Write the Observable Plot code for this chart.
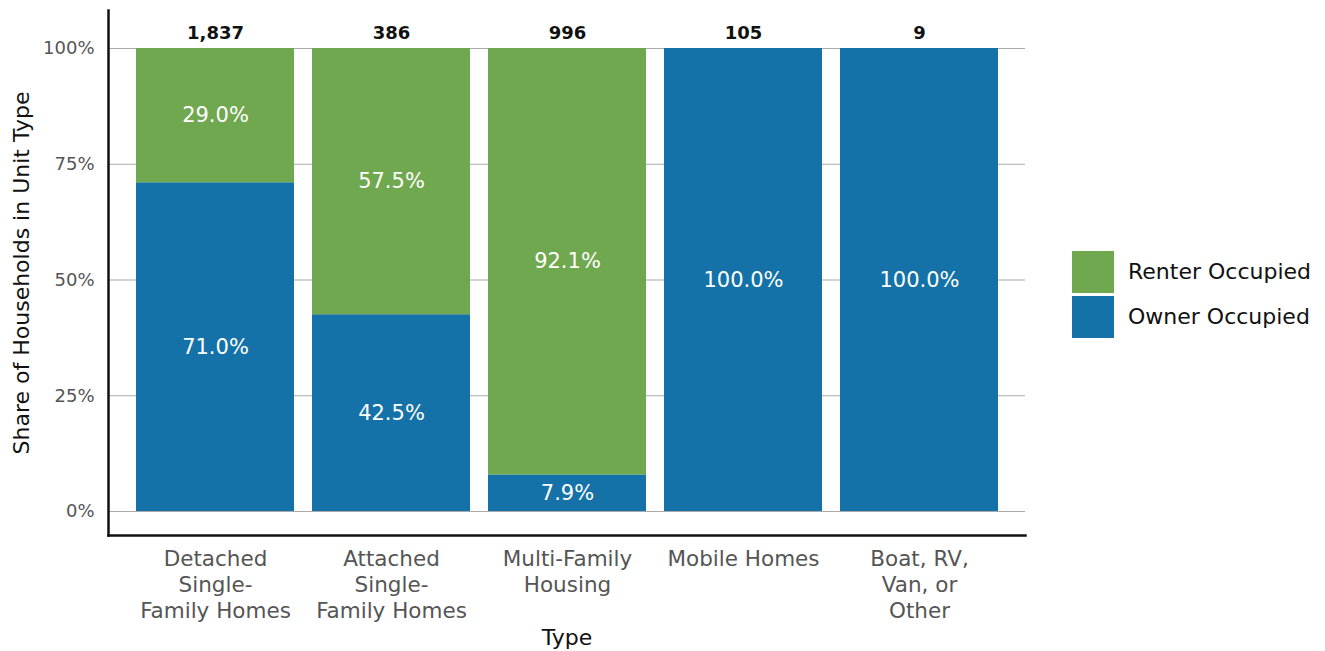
<!DOCTYPE html>
<html>
<head>
<meta charset="utf-8">
<script src="https://cdn.jsdelivr.net/npm/d3@7"></script>
<script src="https://cdn.jsdelivr.net/npm/@observablehq/plot@0.6"></script>
<style>
  html, body { margin: 0; padding: 0; background: #fff; }
  #wrap { position: relative; width: 1325px; height: 651px; font-family: "DejaVu Sans", sans-serif; }
  #legend { position: absolute; left: 1072px; top: 249px; font-size: 22px; color: #111; }
  .item { display: flex; align-items: center; height: 45px; }
  .sw { width: 42px; height: 42px; margin-right: 14px; }
</style>
</head>
<body>
<div id="wrap">
  <div id="chart"></div>
  <div id="legend"></div>
</div>
<script>
const types = ["Detached Single-Family Homes", "Attached Single-Family Homes", "Multi-Family Housing", "Mobile Homes", "Boat, RV, Van, or Other"];
const typeLabels = ["Detached\nSingle-\nFamily Homes", "Attached\nSingle-\nFamily Homes", "Multi-Family\nHousing", "Mobile Homes", "Boat, RV,\nVan, or\nOther"];
const totals = [1837, 386, 996, 105, 9];
const ownerPct = [71.0, 42.5, 7.9, 100.0, 100.0];
const renterPct = [29.0, 57.5, 92.1, 0, 0];
const tenures = ["Renter Occupied", "Owner Occupied"];
const colors = ["#70a84f", "#1572a8"];
const yTicks = [0, 0.25, 0.5, 0.75, 1];

const rows = [];
types.forEach((t, i) => rows.push({type: t, tenure: "Owner Occupied", pct: ownerPct[i]}));
types.forEach((t, i) => rows.push({type: t, tenure: "Renter Occupied", pct: renterPct[i]}));
const totalRows = types.map((t, i) => ({type: t, total: totals[i]}));
const labelOf = new Map(types.map((t, i) => [t, typeLabels[i]]));

const chart = Plot.plot({
  width: 1325,
  height: 651,
  marginLeft: 108,
  marginRight: 300,
  marginTop: 10,
  marginBottom: 116,
  style: {fontFamily: "'DejaVu Sans', sans-serif", background: "#fff"},
  x: {domain: types, paddingInner: 0.105, paddingOuter: 0.15},
  y: {domain: [-24 / 463, 1 + 38 / 463]},
  color: {domain: tenures, range: colors},
  marks: [
    Plot.gridY(yTicks, {stroke: "#aaa", strokeOpacity: 1, strokeWidth: 1.2}),
    Plot.barY(rows, Plot.stackY({x: "type", y: d => d.pct / 100, fill: "tenure", order: null})),
    Plot.text(rows.filter(d => d.pct > 0), Plot.stackY({
      x: "type", y: d => d.pct / 100, z: "tenure", order: null,
      text: d => d.pct.toFixed(1) + "%", fill: "white", fontSize: 21
    })),
    Plot.text(totalRows, {x: "type", y: 1, dy: -15, text: d => d3.format(",")(d.total), fontWeight: "bold", fontSize: 18, fill: "#111"}),
    Plot.axisY(yTicks, {
      tickSize: 0, tickPadding: 14, tickFormat: d => Math.round(d * 100) + "%",
      fontSize: 18, color: "#555",
      label: "Share of Households in Unit Type", labelAnchor: "center", labelArrow: "none", labelOffset: 95
    }),
    Plot.axisX({
      tickSize: 0, tickPadding: 12, tickFormat: d => labelOf.get(d),
      fontSize: 21.5, color: "#555", lineHeight: 1.21,
      label: "Type", labelAnchor: "center", labelArrow: "none", labelOffset: 109
    }),
    Plot.frame({anchor: "left", stroke: "#111", strokeWidth: 2.5}),
    Plot.frame({anchor: "bottom", stroke: "#111", strokeWidth: 2.5})
  ]
});
document.getElementById("chart").appendChild(chart);
chart.querySelectorAll("[aria-label='y-axis label'] text, [aria-label='x-axis label'] text").forEach(t => {
  t.setAttribute("fill", "#111");
  t.style.fontSize = "22px";
});

const legend = document.getElementById("legend");
tenures.forEach((t, i) => {
  const item = document.createElement("div");
  item.className = "item";
  item.innerHTML = `<div class="sw" style="background:${colors[i]}"></div><span>${t}</span>`;
  legend.appendChild(item);
});
</script>
</body>
</html>
